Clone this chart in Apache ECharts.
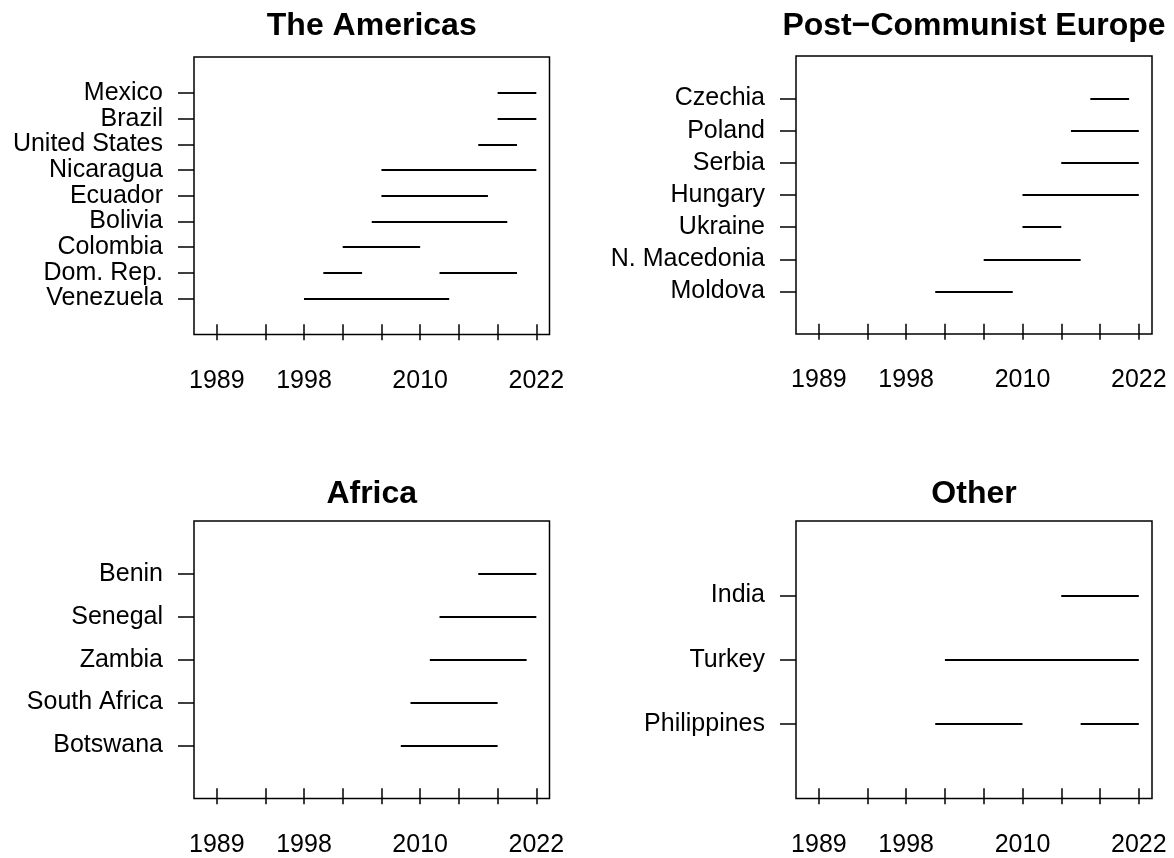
<!DOCTYPE html>
<html>
<head>
<meta charset="utf-8">
<script src="https://cdn.jsdelivr.net/npm/echarts@6/dist/echarts.min.js"></script>
<style>
html,body{margin:0;padding:0;background:#fff;}
#chart{width:1174px;height:858px;}
</style>
</head>
<body>
<div id="chart"></div>
<script>
// ---- Data ----
const tickYears = [1989, 1994, 1998, 2002, 2006, 2010, 2014, 2018, 2022];
const labelYears = [1989, 1998, 2010, 2022];

const panelTitles = ['The Americas', 'Post\u2212Communist Europe', 'Africa', 'Other'];

// countries listed bottom to top
const americasCountries = ['Venezuela', 'Dom. Rep.', 'Colombia', 'Bolivia', 'Ecuador', 'Nicaragua', 'United States', 'Brazil', 'Mexico'];
const americasEpisodeCountry = ['Venezuela', 'Dom. Rep.', 'Dom. Rep.', 'Colombia', 'Bolivia', 'Ecuador', 'Nicaragua', 'United States', 'Brazil', 'Mexico'];
const americasStart = [1998, 2000, 2012, 2002, 2005, 2006, 2006, 2016, 2018, 2018];
const americasEnd   = [2013, 2004, 2020, 2010, 2019, 2017, 2022, 2020, 2022, 2022];

const europeCountries = ['Moldova', 'N. Macedonia', 'Ukraine', 'Hungary', 'Serbia', 'Poland', 'Czechia'];
const europeEpisodeCountry = ['Moldova', 'N. Macedonia', 'Ukraine', 'Hungary', 'Serbia', 'Poland', 'Czechia'];
const europeStart = [2001, 2006, 2010, 2010, 2014, 2015, 2017];
const europeEnd   = [2009, 2016, 2014, 2022, 2022, 2022, 2021];

const africaCountries = ['Botswana', 'South Africa', 'Zambia', 'Senegal', 'Benin'];
const africaEpisodeCountry = ['Botswana', 'South Africa', 'Zambia', 'Senegal', 'Benin'];
const africaStart = [2008, 2009, 2011, 2012, 2016];
const africaEnd   = [2018, 2018, 2021, 2022, 2022];

const otherCountries = ['Philippines', 'Turkey', 'India'];
const otherEpisodeCountry = ['Philippines', 'Philippines', 'Turkey', 'India'];
const otherStart = [2001, 2016, 2002, 2014];
const otherEnd   = [2010, 2022, 2022, 2022];

// ---- Layout ----
const panels = [
  {countries: americasCountries, epC: americasEpisodeCountry, s: americasStart, e: americasEnd, grid: {left: 194, top: 57, width: 355.5, height: 277.5}},
  {countries: europeCountries, epC: europeEpisodeCountry, s: europeStart, e: europeEnd, grid: {left: 796, top: 56, width: 356, height: 278}},
  {countries: africaCountries, epC: africaEpisodeCountry, s: africaStart, e: africaEnd, grid: {left: 194, top: 521, width: 355.5, height: 277.5}},
  {countries: otherCountries, epC: otherEpisodeCountry, s: otherStart, e: otherEnd, grid: {left: 796, top: 521, width: 356, height: 277.5}}
];

const FONT = "'Liberation Sans', Arial, sans-serif";
const xMin = 1988 - 34 * 0.04, xMax = 2022 + 34 * 0.04;

const grids = [], xAxes = [], yAxes = [], series = [], titles = [];
panels.forEach((p, i) => {
  const n = p.countries.length;
  const positions = p.countries.map((c, k) => k + 1);
  grids.push(Object.assign({show: true, borderColor: '#000', borderWidth: 1.5, backgroundColor: 'transparent', containLabel: false}, p.grid));
  xAxes.push({
    type: 'value', gridIndex: i, min: xMin, max: xMax,
    axisLine: {show: false},
    splitLine: {show: false},
    axisTick: {show: true, customValues: tickYears, length: 16, lineStyle: {color: '#000', width: 1.5}},
    axisLabel: {customValues: labelYears, margin: 34, color: '#000', fontSize: 25, fontFamily: FONT,
      showMinLabel: true, showMaxLabel: true, hideOverlap: false, formatter: v => String(v)}
  });
  // two label sets (odd / even rows) on the same left edge so that no row label gets dropped
  [1, 0].forEach(parity => {
    const vals = positions.filter(v => v % 2 === parity);
    yAxes.push({
      type: 'value', gridIndex: i, position: 'left', offset: 0,
      min: -(n + 1) * 0.04, max: (n + 1) * 1.04,
      axisLine: {show: false},
      splitLine: {show: false},
      axisTick: {show: true, customValues: vals, length: 16, lineStyle: {color: '#000', width: 1.5}},
      axisLabel: {customValues: vals, margin: 31, color: '#000', fontSize: 25, fontFamily: FONT,
        showMinLabel: true, showMaxLabel: true, hideOverlap: false,
        formatter: v => p.countries[Math.round(v) - 1] || ''}
    });
  });
  series.push({
    type: 'lines', coordinateSystem: 'cartesian2d', xAxisIndex: i, yAxisIndex: 2 * i,
    silent: true, polyline: false,
    lineStyle: {color: '#000', width: 2, opacity: 1, cap: 'butt'},
    data: p.epC.map((c, k) => {
      const y = p.countries.indexOf(c) + 1;
      return {coords: [[p.s[k], y], [p.e[k], y]]};
    })
  });
  titles.push({
    text: panelTitles[i],
    left: p.grid.left + p.grid.width / 2,
    top: (i < 2 ? 10 : 478),
    padding: 0,
    textAlign: 'center',
    textStyle: {fontFamily: FONT, fontWeight: 'bold', fontSize: 32, color: '#000'}
  });
});

const chart = echarts.init(document.getElementById('chart'), null, {renderer: 'canvas'});
chart.setOption({
  animation: false,
  backgroundColor: '#fff',
  title: titles,
  grid: grids,
  xAxis: xAxes,
  yAxis: yAxes,
  series: series
});
</script>
</body>
</html>
